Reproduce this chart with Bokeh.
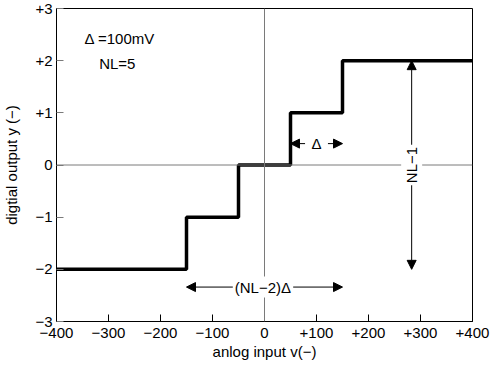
from math import pi
from bokeh.plotting import figure
from bokeh.models import Span, Label, Arrow, NormalHead, FixedTicker, Range1d
from bokeh.embed import file_html
from bokeh.resources import INLINE

# ---- data ----
edges = [-400, -150, -50, 50, 150, 400]          # step transition points (mV)
levels = [-2, -1, 0, 1, 2]                        # output levels
x_ticks = [-400, -300, -200, -100, 0, 100, 200, 300, 400]
x_tick_labels = ["−400", "−300", "−200", "−100", "0", "+100", "+200", "+300", "+400"]
y_ticks = [-3, -2, -1, 0, 1, 2, 3]
y_tick_labels = ["−3", "−2", "−1", "0", "+1", "+2", "+3"]
delta_mv = 100
n_levels = 5

FONT = "Liberation Sans"
FS = "15px"
GRAY = "#7a7a7a"

p = figure(width=495, height=365,
           x_range=Range1d(-400, 400), y_range=Range1d(-3, 3),
           output_backend="svg", toolbar_location=None,
           min_border_left=54, min_border_right=23,
           min_border_top=8, min_border_bottom=44)
p.grid.visible = False
p.outline_line_color = "black"
p.outline_line_width = 1
p.background_fill_color = "white"
p.border_fill_color = "white"

# reference lines at 0
p.add_layout(Span(location=0, dimension="height", line_color=GRAY, line_width=1))
p.add_layout(Span(location=0, dimension="width", line_color=GRAY, line_width=1))

# quantizer staircase
p.step(x=edges, y=levels + [levels[-1]], mode="after", line_color="black", line_width=3.5)

# axes
for ax in (p.xaxis[0], p.yaxis[0]):
    ax.major_tick_in = 7
    ax.major_tick_out = 0
    ax.minor_tick_line_color = None
    ax.axis_line_color = "black"
    ax.major_label_text_font = FONT
    ax.major_label_text_font_size = FS
    ax.major_label_text_color = "black"
    ax.axis_label_text_font = FONT
    ax.axis_label_text_font_size = FS
    ax.axis_label_text_font_style = "normal"
    ax.axis_label_text_color = "black"

p.xaxis.ticker = FixedTicker(ticks=x_ticks)
p.xaxis.major_label_overrides = dict(zip(x_ticks, x_tick_labels))
p.xaxis.major_tick_line_color = "black"
p.xaxis.major_label_standoff = 6
p.xaxis.axis_label = "anlog input v(−)"
p.xaxis.axis_label_standoff = 2

p.yaxis.ticker = FixedTicker(ticks=y_ticks)
p.yaxis.major_label_overrides = dict(zip(y_ticks, y_tick_labels))
p.yaxis.major_tick_line_color = GRAY
p.yaxis.major_label_standoff = 4
p.yaxis.axis_label = "digtial output y (−)"
p.yaxis.axis_label_standoff = 12

def head():
    return NormalHead(size=9, fill_color="black", line_color="black")

# legend-like notes
p.add_layout(Label(x=-346, y=2.42, text=f"Δ ={delta_mv}mV", text_font=FONT,
                   text_font_size=FS, text_baseline="middle", text_color="black"))
p.add_layout(Label(x=-318, y=1.94, text=f"NL={n_levels}", text_font=FONT,
                   text_font_size=FS, text_baseline="middle", text_color="black"))

# Δ width arrows
p.add_layout(Arrow(end=head(), x_start=78, y_start=0.41, x_end=50, y_end=0.41,
                   line_color="black", line_width=1))
p.add_layout(Arrow(end=head(), x_start=122, y_start=0.41, x_end=150, y_end=0.41,
                   line_color="black", line_width=1))
p.add_layout(Label(x=100, y=0.41, text="Δ", text_font=FONT, text_font_size=FS,
                   text_align="center", text_baseline="middle", text_color="black"))

# (NL-2)Δ span arrows
p.add_layout(Arrow(end=head(), x_start=-60, y_start=-2.34, x_end=-150, y_end=-2.34,
                   line_color="black", line_width=1))
p.add_layout(Arrow(end=head(), x_start=55, y_start=-2.34, x_end=150, y_end=-2.34,
                   line_color="black", line_width=1))
p.add_layout(Label(x=-3, y=-2.34, text=f"(NL−2)Δ", text_font=FONT, text_font_size=FS,
                   text_align="center", text_baseline="middle", text_color="black",
                   background_fill_color="white", padding=2))

# NL-1 vertical arrow
p.add_layout(Arrow(start=head(), end=head(), x_start=283, y_start=levels[0],
                   x_end=283, y_end=levels[-1], line_color="black", line_width=1))
p.add_layout(Label(x=283, y=0, text="NL−1", angle=pi / 2, text_font=FONT,
                   text_font_size=FS, text_align="center", text_baseline="middle",
                   text_color="black", background_fill_color="white", padding=2))

open("out.html", "w").write(file_html(p, INLINE))
